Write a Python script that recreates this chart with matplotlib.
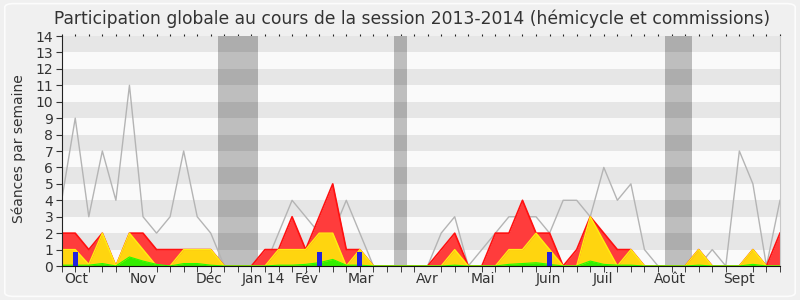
import numpy as np
import matplotlib
matplotlib.use("Agg")
import matplotlib.pyplot as plt
from matplotlib.patches import Rectangle, FancyBboxPatch

# ---- data (weekly, session 2013-2014) ----
weeks = np.arange(54)
grey_line = [4, 9, 3, 7, 4, 11, 3, 2, 3, 7, 3, 2, 0, 0, 0, 0, 2, 4, 3, 2,
             2, 4, 2, 0, 0, 0, 0, 0, 2, 3, 0, 1, 2, 3, 3, 3, 2, 4, 4, 3,
             6, 4, 5, 1, 0, 0, 0, 0, 1, 0, 7, 5, 0, 4]
red_top = [2, 2, 1, 2, 0, 2, 2, 1, 1, 1, 1, 1, 0, 0, 0, 1, 1, 3, 1, 3,
           5, 1, 1, 0, 0, 0, 0, 0, 1, 2, 0, 0, 2, 2, 4, 2, 2, 0, 1, 3,
           2, 1, 1, 0, 0, 0, 0, 1, 0, 0, 0, 1, 0, 2]
yellow_top = [1, 1, 0.1, 2, 0, 2, 1, 0, 0, 1, 1, 1, 0, 0, 0, 0, 1, 1, 1, 2,
              2, 0, 1, 0, 0, 0, 0, 0, 0, 1, 0, 0, 0, 1, 1, 2, 1, 0, 0, 3,
              1.5, 0, 1, 0, 0, 0, 0, 1, 0, 0, 0, 1, 0, 0]
green_top = [0.05, 0.05, 0.05, 0.15, 0, 0.55, 0.3, 0.1, 0, 0.15, 0.15, 0.05, 0, 0, 0, 0, 0.05, 0.05, 0.1, 0.2,
             0.4, 0.05, 0.05, 0, 0, 0, 0, 0, 0, 0.05, 0, 0, 0, 0.1, 0.15, 0.2, 0.1, 0, 0, 0.3,
             0.1, 0.05, 0.05, 0, 0, 0, 0, 0.05, 0, 0, 0, 0.1, 0, 0]
blue_weeks = [1, 19, 22, 36]
blue_values = [0.85, 0.85, 0.85, 0.85]
vacations = [(11.5, 14.5), (24.5, 25.5), (44.5, 46.5)]
month_labels = ["Oct", "Nov", "Déc", "Jan 14", "Fév", "Mar", "Avr", "Mai",
                "Juin", "Juil", "Août", "Sept"]
month_pos = [1.1, 6.0, 10.9, 14.9, 18.1, 22.1, 27.0, 31.1, 35.9, 39.9, 44.9, 50.0]
title = "Participation globale au cours de la session 2013-2014 (hémicycle et commissions)"
ylabel = "Séances par semaine"

# ---- figure ----
fig = plt.figure(figsize=(8, 3), dpi=100, facecolor="#F0F0F0")
fig.patches.append(FancyBboxPatch((0.006, 0.012), 0.988, 0.976,
                                  boxstyle="round,pad=0,rounding_size=0.012",
                                  transform=fig.transFigure, fc="none",
                                  ec="#FCFCFC", lw=1.2))
ax = fig.add_axes([0.0771, 0.1133, 0.8979, 0.7667])
ax.set_xlim(0, 53)
ax.set_ylim(0, 14)

for k in range(14):
    ax.axhspan(k, k + 1, color="#E6E6E6" if k % 2 else "#FAFAFA", lw=0, zorder=0)
for a, b in vacations:
    for k in range(14):
        ax.add_patch(Rectangle((a, k), b - a, 1, lw=0, zorder=1,
                               color="#ADADAD" if k % 2 else "#BEBEBE"))

ax.plot(weeks, grey_line, color="#B4B4B4", lw=1.0, zorder=2)

ax.fill_between(weeks, red_top, color="#FF3C3C", lw=0, zorder=3)
ax.plot(weeks, red_top, color="#FF1010", lw=1.2, zorder=3.1)
ax.fill_between(weeks, yellow_top, color="#FFD50F", lw=0, zorder=3.2)
ax.plot(weeks, yellow_top, color="#FFEE10", lw=1.0, zorder=3.3)
ax.fill_between(weeks, green_top, color="#33EE00", lw=0, zorder=3.4)
ax.plot(weeks, green_top, color="#22FF00", lw=0.8, zorder=3.5)

ax.bar(blue_weeks, blue_values, width=0.37, color="#2222DD", lw=0, zorder=5)

# ---- axes styling ----
ax.spines["top"].set_visible(False)
ax.spines["right"].set_color("#C8C8C8")
ax.spines["left"].set_color("#222222")
ax.spines["bottom"].set_color("#111111")
for s in ax.spines.values():
    s.set_zorder(6)

ax.set_xticks(weeks, minor=True)
ax.set_xticks(month_pos, month_labels)
ax.tick_params(axis="x", which="major", length=0, pad=4, labelsize=10, colors="#333333")
ax.tick_params(axis="x", which="minor", length=4, direction="out", color="#222222")
ax.set_yticks(range(15))
ax.tick_params(axis="y", length=4, direction="out", pad=2, labelsize=10,
               colors="#333333")

sec = ax.secondary_xaxis("top")
sec.set_xticks(weeks)
sec.tick_params(length=1.5, direction="out", labeltop=False, color="#222222")
sec.spines["top"].set_visible(False)

fig.text(0.515, 0.938, title, ha="center", va="center", fontsize=12.3, color="#333333")
fig.text(0.023, 0.503, ylabel, ha="center", va="center", rotation=90,
         fontsize=10, color="#333333")

fig.savefig("out.png", dpi=100, facecolor=fig.get_facecolor())
